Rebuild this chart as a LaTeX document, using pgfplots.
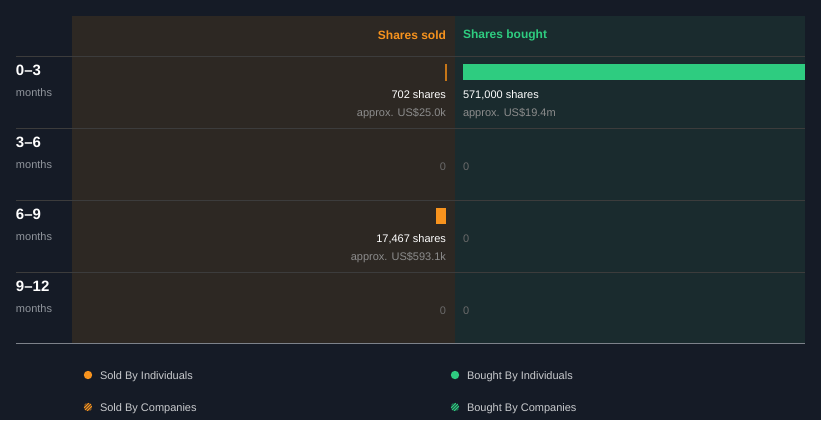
\documentclass[border=0pt]{standalone}
\usepackage{pgfplots}
\pgfplotsset{compat=1.18}
\usepackage{fontspec}
\setmainfont{Liberation Sans}
\definecolor{bg}{HTML}{151B26}
\definecolor{soldbg}{HTML}{2D2823}
\definecolor{boughtbg}{HTML}{1A2B2E}
\definecolor{sold}{HTML}{F7931E}
\definecolor{bought}{HTML}{2ECC80}
\definecolor{gridc}{HTML}{3C3C3C}
\definecolor{basec}{HTML}{7D828A}
\definecolor{subtext}{HTML}{8C8C8C}
\definecolor{zerotext}{HTML}{6A6A6A}
\definecolor{monthc}{HTML}{90959C}
\definecolor{legtext}{HTML}{C8CACD}
\newcommand{\fs}[1]{\fontsize{#1pt}{#1pt}\selectfont}
\tikzset{lbl/.style={inner sep=0pt, outer sep=0pt}}
\begin{document}
\begin{tikzpicture}[x=1pt,y=1pt]
\useasboundingbox (0,0) rectangle (821,-420);
\fill[bg] (0,0) rectangle (821,-420);
\fill[soldbg] (72,-16) rectangle (455,-343);
\fill[boughtbg] (455,-16) rectangle (805,-343);
\foreach \yy in {56,128,200,272} \draw[gridc, line width=0.8pt] (16,-\yy) -- (805,-\yy);
\draw[basec, line width=0.8pt] (16,-343) -- (805,-343);

% sold axis
\begin{axis}[at={(72pt,-16pt)}, anchor=north west, scale only axis,
  width=383pt, height=327pt, hide axis, clip=false,
  x dir=reverse, y dir=reverse,
  xmin=-15026, xmax=624427, ymin=-0.7778, ymax=3.7639,
  xbar, bar width=16pt, bar shift=0pt]
\addplot[fill=sold, draw=sold!80!black, line width=0.4pt] coordinates {(702,0)};
\addplot[fill=sold, draw=none] coordinates {(17467,2)};
\node[lbl, anchor=east, text=sold, font=\fs{12}\bfseries] at (axis cs:0,-0.5139) {Shares sold};
\node[lbl, anchor=east, text=white, font=\fs{11}] at (axis cs:0,0.3194) {702 shares};
\node[lbl, anchor=east, text=subtext, font=\fs{11}] at (axis cs:0,0.5764) {approx. US\$25.0k};
\node[lbl, anchor=east, text=zerotext, font=\fs{11}] at (axis cs:0,1.3194) {0};
\node[lbl, anchor=east, text=white, font=\fs{11}] at (axis cs:0,2.3194) {17,467 shares};
\node[lbl, anchor=east, text=subtext, font=\fs{11}] at (axis cs:0,2.5764) {approx. US\$593.1k};
\node[lbl, anchor=east, text=zerotext, font=\fs{11}] at (axis cs:0,3.3194) {0};
\end{axis}

% bought axis
\begin{axis}[at={(455pt,-16pt)}, anchor=north west, scale only axis,
  width=350pt, height=327pt, hide axis, clip=false,
  y dir=reverse,
  xmin=-13357, xmax=571000, ymin=-0.7778, ymax=3.7639,
  xbar, bar width=16pt, bar shift=0pt]
\addplot[fill=bought, draw=none] coordinates {(571000,0)};
\node[lbl, anchor=west, text=bought, font=\fs{12}\bfseries] at (axis cs:0,-0.5139) {Shares bought};
\node[lbl, anchor=west, text=white, font=\fs{11}] at (axis cs:0,0.3194) {571,000 shares};
\node[lbl, anchor=west, text=subtext, font=\fs{11}] at (axis cs:0,0.5764) {approx. US\$19.4m};
\node[lbl, anchor=west, text=zerotext, font=\fs{11}] at (axis cs:0,1.3194) {0};
\node[lbl, anchor=west, text=zerotext, font=\fs{11}] at (axis cs:0,2.3194) {0};
\node[lbl, anchor=west, text=zerotext, font=\fs{11}] at (axis cs:0,3.3194) {0};
\end{axis}

% row labels
\foreach \lab [count=\i from 0] in {0--3,3--6,6--9,9--12} {
  \node[lbl, anchor=west, text=white, font=\fs{15}\bfseries] at (16,{-70.5-72*\i}) {\lab};
  \node[lbl, anchor=west, text=monthc, font=\fs{11}] at (16,{-93-72*\i}) {months};
}

% legend
\fill[sold] (88,-375) circle (4.2);
\node[lbl, anchor=west, text=legtext, font=\fs{11}] at (100,-376.5) {Sold By Individuals};
\fill[bought] (455,-375) circle (4.2);
\node[lbl, anchor=west, text=legtext, font=\fs{11}] at (467,-376.5) {Bought By Individuals};
\begin{scope}
\clip (88,-407) circle (4.2);
\foreach \d in {-6,-3,0,3,6} \draw[sold, line width=1.1pt] ({88+\d-6},{-407-6}) -- ({88+\d+6},{-407+6});
\end{scope}
\node[lbl, anchor=west, text=legtext, font=\fs{11}] at (100,-408.5) {Sold By Companies};
\begin{scope}
\clip (455,-407) circle (4.2);
\foreach \d in {-6,-3,0,3,6} \draw[bought, line width=1.1pt] ({455+\d-6},{-407-6}) -- ({455+\d+6},{-407+6});
\end{scope}
\node[lbl, anchor=west, text=legtext, font=\fs{11}] at (467,-408.5) {Bought By Companies};
\end{tikzpicture}
\end{document}
